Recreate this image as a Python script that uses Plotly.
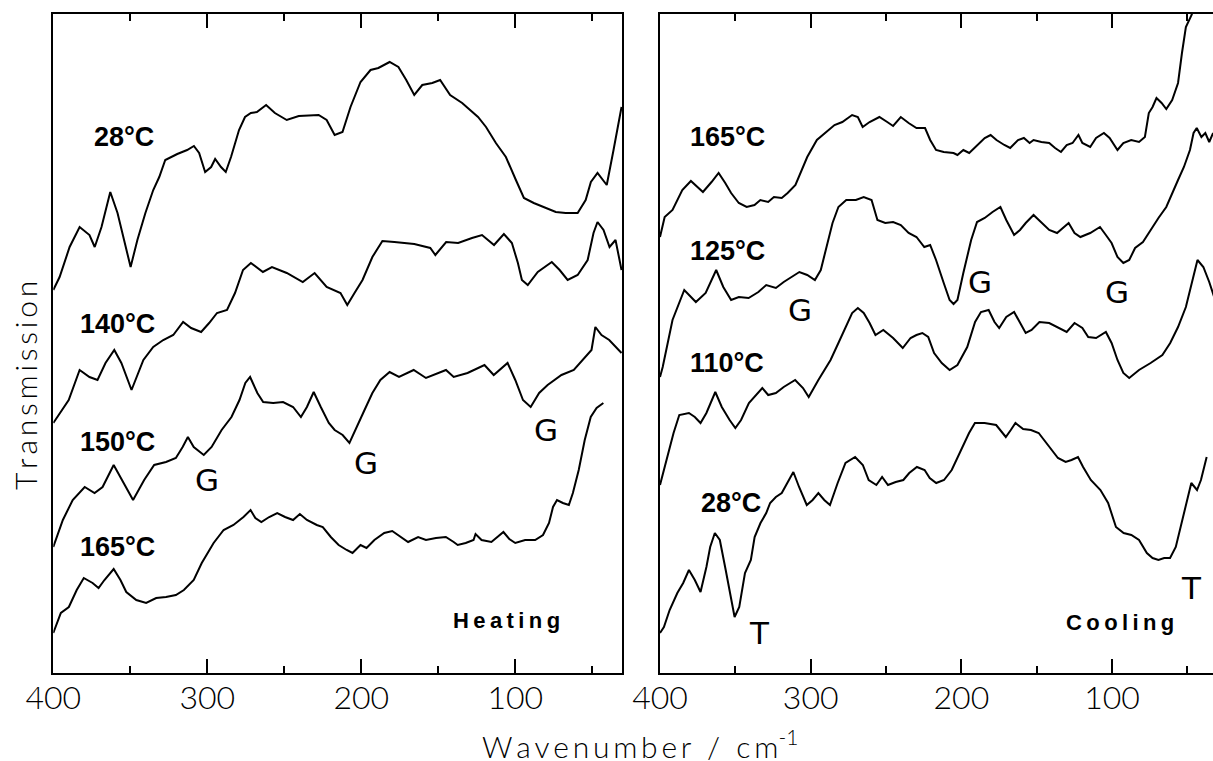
import plotly.graph_objects as go

# Far-IR transmission spectra; x = wavenumber (cm-1), y = transmission (arb. units, offset traces)

# ---------------- Heating ----------------
heat_28_wn = [400, 395.9, 389.4, 382.9, 376.5, 373.1, 368.7, 363.0, 358.3, 349.8, 345.4, 340.2, 335.1, 331.2,
              327.3, 319.5, 313.1, 308.7, 305.3, 301.4, 297.5, 294.9, 291.1, 288.0, 284.6, 279.4, 275.5, 271.7,
              267.8, 261.8, 256.1, 248.4, 240.6, 227.7, 222.5, 217.3, 212.2, 207.0, 200.5, 194.0, 188.9, 181.6,
              175.9, 170.8, 165.6, 160.4, 153.9, 148.8, 142.3, 134.5, 124.2, 119.0, 112.6, 106.1, 99.6, 94.4,
              88.0, 80.2, 73.7, 67.3, 59.5, 54.3, 50.9, 46.6, 40.6, 36.2, 31.0]
heat_28_tr = [383, 396, 426, 446, 438, 426, 446, 481, 460, 406, 433, 460, 483, 496,
              513, 519, 523, 527, 520, 501, 506, 514, 506, 501, 516, 543, 556, 560,
              561, 568, 560, 553, 557, 558, 553, 538, 541, 566, 591, 603, 605, 611,
              606, 593, 578, 588, 590, 593, 578, 570, 556, 546, 530, 516, 493, 475,
              470, 465, 461, 460, 460, 473, 491, 500, 488, 523, 566]

heat_140_wn = [400, 390.0, 382.9, 376.5, 371.3, 366.1, 360.4, 355.8, 349.2, 341.5, 335.1, 328.6, 322.1, 315.7,
               310.5, 304.0, 298.8, 293.7, 287.2, 282.0, 276.8, 271.7, 263.9, 258.0, 248.4, 238.0, 230.3, 222.5,
               213.5, 209.1, 204.4, 199.2, 192.8, 186.3, 178.5, 165.6, 155.2, 151.9, 144.9, 137.1, 128.1, 121.6,
               113.8, 107.4, 102.2, 98.3, 95.7, 91.9, 85.4, 76.3, 71.2, 66.0, 59.5, 53.0, 49.2, 46.6, 42.7,
               38.8, 34.9, 31.0]
heat_140_tr = [250, 273, 303, 296, 293, 310, 323, 310, 283, 313, 326, 333, 338, 351,
               345, 341, 350, 360, 363, 380, 403, 410, 401, 406, 400, 391, 400, 386,
               380, 368, 380, 393, 416, 432, 431, 429, 425, 418, 431, 430, 435, 438,
               428, 439, 430, 410, 393, 388, 401, 411, 403, 393, 398, 413, 440, 451, 443,
               426, 433, 403]

heat_150_wn = [400, 393.8, 387.4, 379.6, 373.2, 368.0, 360.8, 355.2, 348.2, 341.0, 334.5, 326.8, 320.4, 316.0,
               312.6, 308.8, 302.3, 297.2, 290.7, 284.3, 279.1, 275.3, 272.2, 267.5, 263.7, 257.2, 250.8, 244.3,
               239.2, 235.3, 230.9, 226.3, 221.1, 217.3, 212.1, 207.7, 203.1, 197.9, 192.8, 187.6, 181.6, 175.5,
               166.0, 158.0, 145.0, 140.0, 131.0, 120.0, 114.0, 105.0, 100.0, 95.0, 90.0, 84.5, 79.0, 70.0,
               62.0, 56.0, 50.5, 48.0, 44.0, 39.0, 35.0, 31.0]
heat_150_tr = [126, 153, 173, 186, 180, 186, 208, 193, 173, 193, 208, 211, 215, 226,
               236, 226, 218, 226, 243, 256, 273, 290, 296, 280, 271, 270, 271, 266,
               256, 266, 281, 266, 250, 243, 238, 230, 246, 263, 280, 293, 301, 296,
               303, 295, 303, 296, 300, 308, 298, 310, 293, 273, 266, 280, 288, 298,
               303, 313, 323, 346, 338, 333, 326, 320]

heat_165_wn = [400, 395.1, 389.9, 384.8, 380.2, 374.5, 370.6, 366.8, 360.8, 356.4, 352.6, 346.1, 339.7, 333.2,
               326.8, 320.4, 315.2, 308.8, 303.6, 295.9, 289.4, 283.0, 276.5, 271.9, 268.8, 264.9, 259.8, 254.6,
               249.5, 244.3, 239.9, 235.3, 228.9, 225.0, 219.8, 214.7, 209.5, 205.7, 200.5, 196.6, 191.5, 185.1,
               179.9, 174.7, 169.6, 163.1, 158.0, 151.5, 145.1, 140.0, 137.4, 132.2, 127.1, 125.8, 121.9, 115.5,
               107.7, 103.9, 100.0, 93.6, 87.1, 82.0, 78.1, 75.5, 72.9, 69.1, 65.2, 62.6, 58.8, 54.9, 51.0,
               47.2, 42.8]
heat_165_tr = [40, 60, 66, 83, 95, 90, 85, 93, 104, 93, 81, 73, 70, 75,
               76, 78, 83, 93, 110, 130, 143, 148, 156, 163, 155, 151, 156, 160,
               156, 153, 159, 153, 148, 146, 136, 128, 123, 120, 128, 125, 133, 140,
               142, 136, 131, 136, 133, 135, 136, 131, 128, 130, 133, 139, 133, 131,
               141, 134, 130, 133, 133, 138, 150, 166, 173, 170, 168, 180, 203, 233, 256,
               265, 270]

# ---------------- Cooling ----------------
cool_165_wn = [400, 396.9, 391.7, 385.2, 379.5, 374.9, 371.5, 365.8, 361.1, 356.7, 352.8, 347.7, 342.5, 337.3,
               333.4, 328.2, 324.4, 319.2, 315.3, 310.1, 306.2, 302.3, 295.9, 289.4, 284.2, 279.0, 272.5, 268.7,
               265.5, 260.9, 254.4, 249.2, 245.3, 240.2, 235.0, 229.8, 224.1, 220.7, 216.8, 211.7, 205.2, 202.6,
               198.7, 194.8, 190.9, 184.5, 180.6, 176.7, 171.5, 167.6, 162.4, 158.5, 154.7, 152.1, 146.9, 141.7,
               137.8, 133.9, 130.1, 126.2, 122.3, 119.7, 114.5, 110.6, 105.4, 101.6, 96.4, 92.5, 87.3, 82.1,
               78.2, 75.6, 73.1, 70.5, 67.1, 64.0, 60.1, 56.2, 53.6, 51.0, 47.2, 44.0]
cool_165_tr = [436, 456, 463, 483, 492, 486, 481, 491, 500, 490, 480, 470, 466, 468,
               473, 471, 476, 475, 480, 488, 503, 516, 533, 541, 548, 551, 558, 556,
               546, 551, 556, 551, 547, 556, 550, 545, 545, 533, 523, 521, 520, 518,
               523, 520, 526, 535, 538, 533, 528, 525, 533, 535, 530, 533, 531, 530,
               525, 521, 528, 530, 538, 530, 526, 535, 540, 535, 523, 530, 533, 531,
               536, 560, 566, 575, 570, 564, 573, 590, 620, 646, 658, 673]

cool_125_wn = [400, 398.2, 391.7, 383.9, 376.2, 369.7, 362.7, 358.0, 352.8, 347.7, 341.2, 334.7, 329.5, 323.1,
               317.9, 312.7, 307.5, 302.3, 297.2, 293.3, 289.4, 285.5, 281.6, 276.4, 270.0, 264.8, 259.6, 255.7,
               250.5, 245.3, 240.2, 235.0, 229.8, 224.6, 220.7, 216.8, 211.7, 207.8, 205.2, 202.6, 198.7, 193.5,
               189.6, 184.5, 179.3, 174.1, 170.2, 165.0, 161.1, 157.3, 152.1, 146.9, 141.7, 136.5, 132.6, 128.8,
               124.9, 121.0, 114.5, 108.0, 104.1, 100.3, 96.4, 92.5, 88.6, 84.7, 79.5, 74.4, 69.2, 64.0, 60.1,
               56.2, 52.3, 48.3, 45.9, 43.8, 40.7, 38.1, 35.5, 32.9]
cool_125_tr = [296, 306, 353, 383, 371, 380, 403, 386, 373, 376, 375, 381, 388, 385,
               391, 396, 401, 398, 393, 403, 426, 450, 466, 473, 473, 476, 473, 453,
               450, 451, 448, 440, 436, 426, 428, 413, 390, 373, 369, 373, 400, 433,
               451, 455, 461, 466, 453, 438, 443, 450, 458, 450, 443, 440, 445, 450,
               440, 436, 440, 446, 438, 430, 416, 410, 413, 425, 431, 443, 455, 466, 480,
               493, 506, 523, 540, 545, 536, 540, 531, 540]

cool_110_wn = [400, 396.2, 391.0, 387.2, 380.8, 376.9, 373.1, 369.2, 363.3, 359.0, 353.8, 350.0, 346.2, 341.0,
               335.9, 332.1, 328.2, 323.1, 317.9, 310.3, 305.1, 301.3, 294.9, 286.8, 281.6, 276.4, 272.5, 268.7,
               264.8, 260.9, 257.0, 251.8, 245.3, 238.9, 233.7, 229.8, 225.9, 222.0, 218.1, 213.0, 207.8, 202.6,
               196.1, 190.9, 187.0, 181.9, 178.0, 174.9, 170.2, 165.0, 161.1, 157.3, 153.4, 148.2, 141.7, 135.2,
               130.1, 124.9, 119.7, 115.8, 110.6, 104.1, 100.3, 96.4, 92.5, 88.6, 82.1, 74.4, 66.6, 61.4, 56.2,
               51.0, 47.2, 43.3, 39.4, 35.5, 31.6]
cool_110_tr = [188, 210, 240, 258, 260, 256, 250, 260, 281, 266, 253, 245, 253, 270,
               278, 285, 278, 280, 286, 293, 285, 276, 293, 313, 330, 348, 360, 365,
               360, 350, 338, 343, 335, 325, 335, 338, 340, 336, 320, 310, 303, 308,
               326, 351, 361, 363, 351, 345, 356, 361, 350, 340, 343, 351, 350, 345,
               341, 350, 345, 336, 335, 341, 330, 313, 300, 295, 303, 310, 318, 330, 346,
               366, 390, 413, 406, 391, 373]

cool_28_wn = [400, 397.4, 393.6, 388.5, 384.6, 380.8, 376.9, 373.1, 369.2, 366.7, 363.6, 360.3, 356.4, 353.1,
              350.5, 347.4, 343.6, 339.7, 337.2, 333.3, 329.5, 326.9, 323.1, 319.2, 315.4, 311.5, 307.7, 302.6,
              298.7, 294.9, 291.0, 287.2, 282.1, 276.9, 270.5, 265.4, 261.5, 256.4, 252.6, 248.7, 243.6, 238.5,
              234.6, 229.5, 224.4, 221.0, 216.7, 211.5, 206.4, 200.0, 194.9, 191.0, 184.6, 176.9, 170.5, 167.2,
              164.1, 159.0, 153.8, 148.7, 143.6, 139.7, 135.9, 130.8, 126.9, 122.6, 119.2, 114.1, 107.7, 102.6,
              97.4, 92.3, 87.2, 82.1, 76.9, 73.1, 69.2, 65.4, 61.5, 57.7, 53.8, 50.0, 47.4, 43.6, 41.0, 37.2]
cool_28_tr = [40, 46, 63, 80, 90, 103, 93, 81, 106, 126, 140, 133, 103, 76,
              56, 66, 100, 113, 136, 150, 160, 170, 176, 180, 190, 201, 186, 168,
              173, 180, 173, 168, 190, 210, 216, 208, 193, 188, 196, 188, 191, 193,
              200, 206, 203, 195, 190, 193, 203, 223, 240, 250, 250, 248, 236, 243,
              250, 244, 243, 240, 230, 223, 215, 211, 213, 216, 206, 193, 183, 170,
              146, 140, 138, 133, 120, 115, 113, 115, 115, 126, 150, 173, 190, 183, 193, 216]

# ---------------- Text ----------------
tick_vals = [400, 300, 200, 100]
tick_text = ["400", "300", "200", "100"]
minor_vals = [350, 250, 150, 50]

heat_labels = ["28°C", "140°C", "150°C", "165°C"]
heat_label_wn = [354, 358, 358, 358]
heat_label_tr = [536, 349, 231, 126]
cool_labels = ["165°C", "125°C", "110°C", "28°C"]
cool_label_wn = [355.5, 355.5, 355.5, 352.6]
cool_label_tr = [536, 422, 310, 170]

heat_marks = ["G", "G", "G"]
heat_mark_wn = [300, 197, 80]
heat_mark_tr = [193, 210, 243]
cool_marks = ["G", "G", "G", "T", "T"]
cool_mark_wn = [307, 187.7, 96.7, 334.3, 47.6]
cool_mark_tr = [363, 391, 381, 40, 85]

W, H = 1213, 761
BLACK = "#000000"
LINE = dict(color=BLACK, width=2)


def spaced(s, sep="\u2009"):
    return sep.join(list(s))


fig = go.Figure()

heat_series = [(heat_28_wn, heat_28_tr), (heat_140_wn, heat_140_tr),
               (heat_150_wn, heat_150_tr), (heat_165_wn, heat_165_tr)]
cool_series = [(cool_165_wn, cool_165_tr), (cool_125_wn, cool_125_tr),
               (cool_110_wn, cool_110_tr), (cool_28_wn, cool_28_tr)]

for wn, tr in heat_series:
    fig.add_trace(go.Scatter(x=wn, y=tr, mode="lines", line=LINE, xaxis="x", yaxis="y",
                             showlegend=False, hoverinfo="skip"))
for wn, tr in cool_series:
    fig.add_trace(go.Scatter(x=wn, y=tr, mode="lines", line=LINE, xaxis="x2", yaxis="y2",
                             showlegend=False, hoverinfo="skip"))

# plot-area geometry (paper fractions)
y_dom = [1 - 673 / H, 1 - 14 / H]
x1_dom = [53.3 / W, 622 / W]
x2_dom = [660 / W, 1.0]

tick_font = dict(family="Lato, DejaVu Sans, sans-serif", size=32, color=BLACK, weight=300)


def xaxis_cfg(domain, rng, anchor):
    return dict(domain=domain, range=rng, anchor=anchor, automargin=False,
                showgrid=False, zeroline=False,
                showline=True, linecolor=BLACK, linewidth=2, mirror="ticks",
                ticks="inside", ticklen=14, tickwidth=2, tickcolor=BLACK,
                tickvals=tick_vals, ticktext=tick_text, tickfont=tick_font,
                ticklabelstandoff=-4,
                minor=dict(tickvals=minor_vals, ticks="inside", ticklen=7, tickwidth=2,
                           tickcolor=BLACK, showgrid=False))


yrng = [0, 659]
fig.update_layout(
    width=W, height=H,
    margin=dict(l=0, r=0, t=0, b=0, autoexpand=False),
    paper_bgcolor="white", plot_bgcolor="white",
    xaxis=xaxis_cfg(x1_dom, [400, 30.7], "y"),
    xaxis2=xaxis_cfg(x2_dom, [400, 33], "y2"),
    yaxis=dict(domain=y_dom, range=yrng, anchor="x", automargin=False,
               showgrid=False, zeroline=False,
               showline=True, linecolor=BLACK, linewidth=2, mirror=True,
               showticklabels=False, ticks=""),
    yaxis2=dict(domain=y_dom, range=yrng, anchor="x2", automargin=False,
                showgrid=False, zeroline=False,
                showline=True, linecolor=BLACK, linewidth=2, mirror=False,
                showticklabels=False, ticks=""),
)

bold = dict(family="Liberation Sans, Arial, sans-serif", size=27, color=BLACK, weight="bold")
mark_font = dict(family="DejaVu Sans, sans-serif", size=31, color=BLACK)

ann = []
for t, xw, yv in zip(heat_labels, heat_label_wn, heat_label_tr):
    ann.append(dict(x=xw, y=yv, xref="x", yref="y", text=t, showarrow=False, font=bold))
for t, xw, yv in zip(cool_labels, cool_label_wn, cool_label_tr):
    ann.append(dict(x=xw, y=yv, xref="x2", yref="y2", text=t, showarrow=False, font=bold))
for t, xw, yv in zip(heat_marks, heat_mark_wn, heat_mark_tr):
    ann.append(dict(x=xw, y=yv, xref="x", yref="y", text=t, showarrow=False, font=mark_font))
for t, xw, yv in zip(cool_marks, cool_mark_wn, cool_mark_tr):
    ann.append(dict(x=xw, y=yv, xref="x2", yref="y2", text=t, showarrow=False, font=mark_font))

panel_font = dict(family="Liberation Sans, Arial, sans-serif", size=22, color=BLACK, weight="bold")
ann.append(dict(x=105.4, y=53, xref="x", yref="y", text=spaced("Heating"), showarrow=False, font=panel_font))
ann.append(dict(x=94.8, y=51, xref="x2", yref="y2", text=spaced("Cooling"), showarrow=False, font=panel_font))

title_font = dict(family="Lato, DejaVu Sans, sans-serif", size=30, color=BLACK, weight=300)
ann.append(dict(x=640 / W, y=1 - 744 / H, xref="paper", yref="paper",
                text=spaced("Wavenumber") + "  /  " + spaced("cm") + "<sup>-1</sup>",
                showarrow=False, font=title_font, xanchor="center", yanchor="middle"))
ann.append(dict(x=25 / W, y=1 - 386 / H, xref="paper", yref="paper",
                text=spaced("Transmission"), textangle=-90,
                showarrow=False, font=title_font, xanchor="center", yanchor="middle"))

fig.update_layout(annotations=ann)
fig.write_html("out.html")
